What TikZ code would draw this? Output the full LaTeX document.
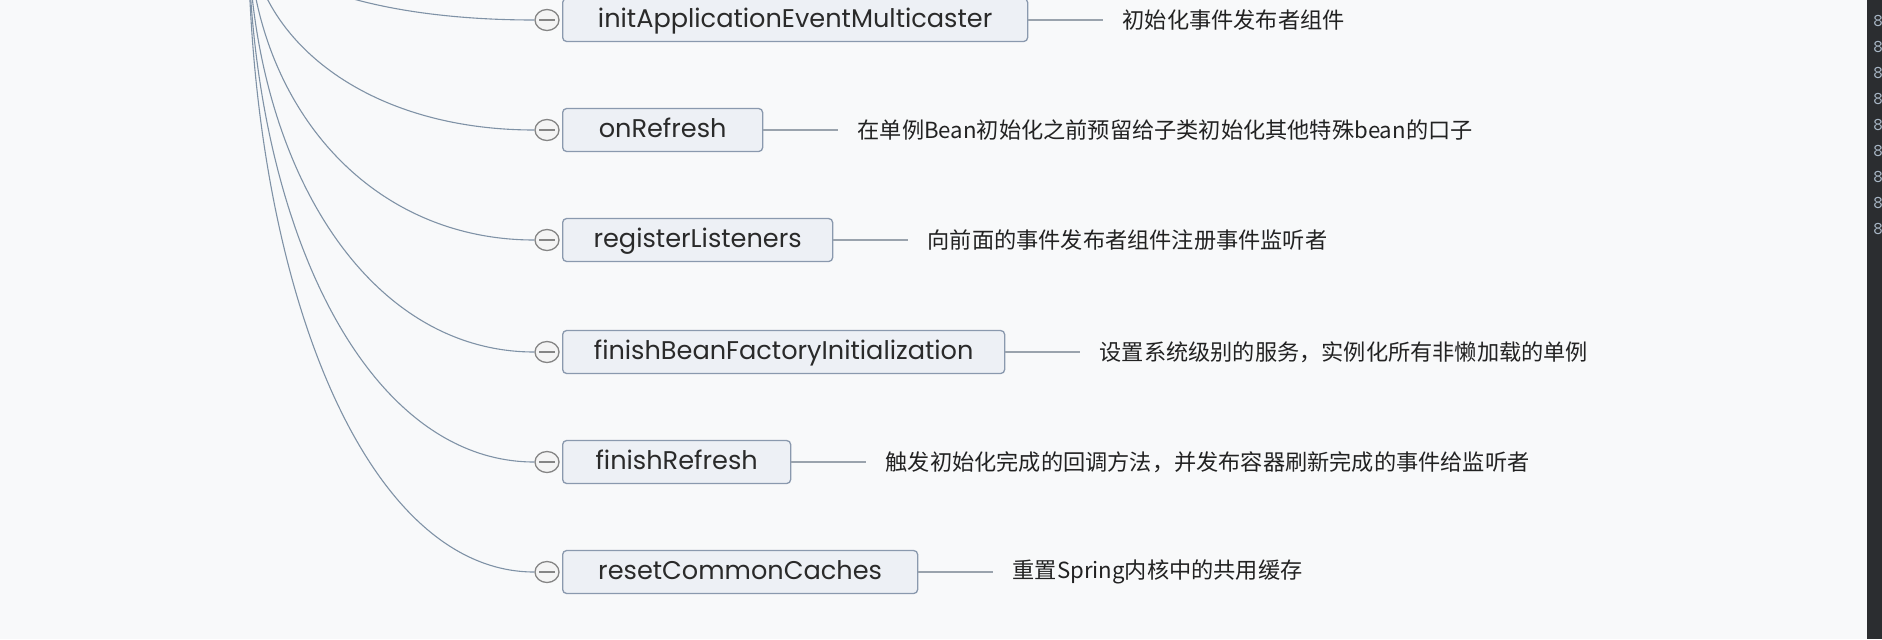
\documentclass[tikz,border=0pt]{standalone}
\usepackage{fontspec}
\setmainfont{Poppins}
\newfontfamily\cjk{Noto Sans CJK SC}
\usetikzlibrary{shapes.geometric}

\definecolor{bgcol}{HTML}{F8F9FA}
\definecolor{boxfill}{HTML}{EDF0F5}
\definecolor{boxborder}{HTML}{8A99AE}
\definecolor{branchcol}{HTML}{7F92A6}
\definecolor{stubcol}{HTML}{9AA3AD}
\definecolor{foldcol}{HTML}{858585}
\definecolor{foldfill}{HTML}{F4F4F4}
\definecolor{labeltext}{HTML}{2A2A2A}
\definecolor{notetext}{HTML}{222222}
\definecolor{stripcol}{HTML}{2B2D30}
\definecolor{digitcol}{HTML}{A9B7C6}

\begin{document}
\begin{tikzpicture}[x=0.5pt,y=-0.5pt,
    topic/.style={draw=boxborder, fill=boxfill, rounded corners=2pt, line width=0.65pt,
      minimum height=21.5pt, anchor=west, inner sep=0pt, text height=10.5pt, text depth=3pt,
      font=\fontsize{12.8}{14}\selectfont, text=labeltext},
    fold/.style={ellipse, draw=foldcol, fill=foldfill, line width=0.65pt,
      minimum width=12pt, minimum height=10.5pt, inner sep=0pt},
    note/.style={anchor=west, inner xsep=9.5pt, inner ysep=0pt,
      font=\cjk\fontsize{11.1}{13}\selectfont, text=notetext},
    branch/.style={draw=branchcol, line width=0.55pt},
    stub/.style={draw=stubcol, line width=0.55pt}]

    % Background and frame of the screenshot
    \fill[bgcol] (0,0) rectangle (1882,639);
    \clip (0,0) rectangle (1882,639);

    % Editor strip on the right, with its line numbers
    \fill[stripcol] (1867,0) rectangle (1882,639);
    \foreach \k in {0,...,8}
    \node[anchor=west, inner sep=0pt, text=digitcol, font=\ttfamily\fontsize{9}{10}\selectfont] (g\k) at (1873,21+26*\k) {8};

    % Parent topic lies above the visible area
    \coordinate (root) at (248,-80);

    % Draw the sub-topics, their fold markers, branches and notes
    \foreach \i/\y/\w/\lab/\txt in {
      1/20/465/initApplicationEventMulticaster/初始化事件发布者组件,
      2/130/200/onRefresh/在单例Bean初始化之前预留给子类初始化其他特殊bean的口子,
      3/240/270/registerListeners/向前面的事件发布者组件注册事件监听者,
      4/352/442/finishBeanFactoryInitialization/设置系统级别的服务，实例化所有非懒加载的单例,
      5/462/228/finishRefresh/触发初始化完成的回调方法，并发布容器刷新完成的事件给监听者,
      6/572/355/resetCommonCaches/重置Spring内核中的共用缓存}
    {
      \pgfmathsetmacro\cy{-80+0.55*(\y+80)}
      \node[topic, minimum width={\w*0.5pt}] (b\i) at (562,\y) {\lab};
      \node[fold] (c\i) at (547,\y) {};
      \draw[foldcol, line width=0.6pt] ([xshift=-4pt]c\i.center) -- ([xshift=4pt]c\i.center);
      \node[note] (n\i) at ([xshift=37.5pt]b\i.east) {\txt};
      \draw[stub] (b\i.east) -- (n\i.west);
      \draw[branch] (root) .. controls (248,\cy) and (363,\y) .. (c\i.west);
    }
\end{tikzpicture}
\end{document}
